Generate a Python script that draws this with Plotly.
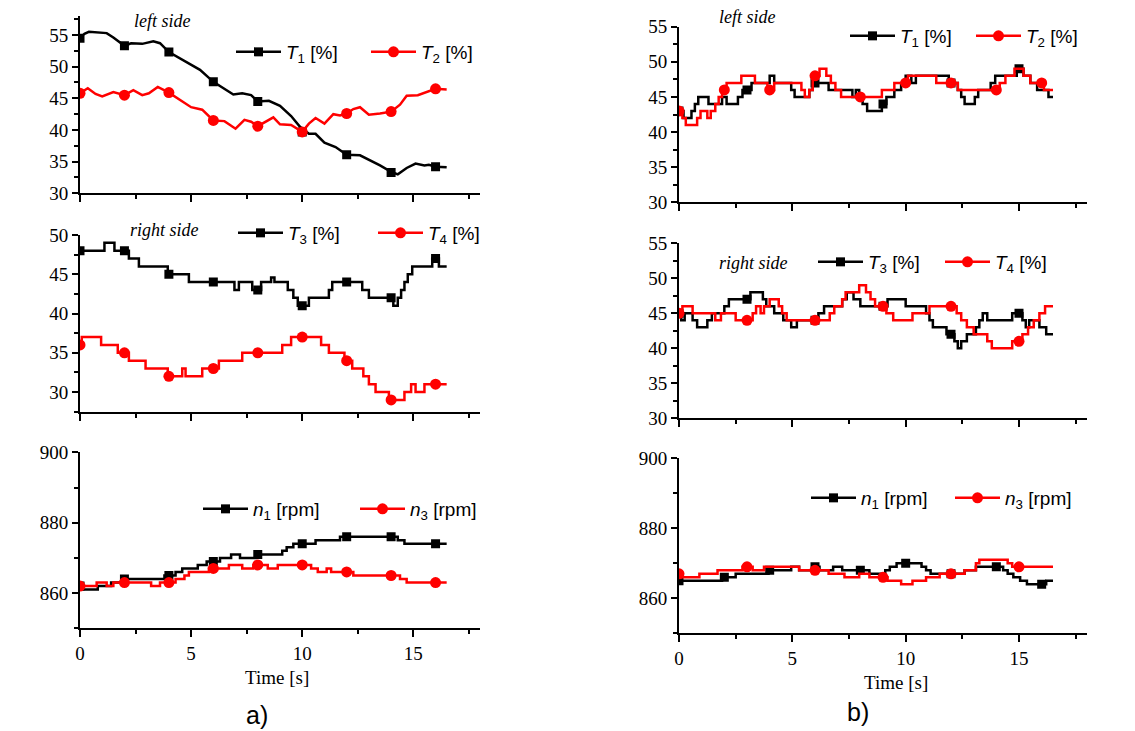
import plotly.graph_objects as go

W, H = 1135, 731
PAGE_MARGIN = 8            # browser body margin in front of the figure
FW, FH = W - PAGE_MARGIN, H - PAGE_MARGIN

# ---------------- data (time [s], value) ----------------
# a) left side
a_T1 = [(0, 54.5), (0.2, 55.2), (0.4, 55.5), (0.8, 55.4), (1.2, 55.3), (1.5, 54.6), (2.0, 53.3),
        (2.3, 53.7), (2.8, 53.6), (3.3, 54.0), (3.6, 53.7), (4.0, 52.3), (4.5, 51.3), (5.0, 50.2),
        (5.4, 49.5), (6.0, 47.6), (6.4, 46.7), (6.9, 45.6), (7.3, 45.8), (7.7, 45.5), (8.0, 44.5),
        (8.5, 44.6), (9.0, 43.8), (9.5, 42.2), (9.9, 40.5), (10.3, 39.4), (10.6, 39.4), (11.0, 38.0),
        (11.5, 37.3), (12.0, 36.1), (12.6, 36.0), (13.0, 35.3), (13.5, 34.4), (14.0, 33.4), (14.3, 33.0),
        (14.7, 34.0), (15.1, 34.7), (15.5, 34.4), (15.7, 34.5), (16.0, 34.2), (16.5, 34.1)]
a_T2 = [(0, 45.8), (0.35, 46.6), (0.7, 45.7), (1.0, 45.3), (1.5, 46.0), (2.0, 45.5), (2.4, 46.3),
        (2.8, 45.5), (3.1, 45.8), (3.5, 46.8), (4.0, 45.9), (4.5, 44.8), (5.0, 43.6), (5.5, 43.2),
        (6.0, 41.5), (6.5, 41.4), (7.0, 40.2), (7.4, 41.6), (7.7, 41.3), (8.0, 40.6), (8.4, 41.4),
        (8.7, 42.0), (9.0, 40.9), (9.5, 40.8), (10.0, 39.7), (10.3, 41.0), (10.6, 41.9), (11.0, 41.0),
        (11.4, 42.5), (11.7, 42.3), (12.0, 42.6), (12.3, 43.3), (12.6, 43.6), (13.0, 42.4), (13.5, 42.6),
        (14.0, 42.9), (14.4, 44.0), (14.7, 45.4), (15.2, 45.5), (15.6, 46.0), (16.0, 46.5), (16.5, 46.4)]
a_T1_mk = [54.5, 53.3, 52.3, 47.6, 44.5, 39.7, 36.1, 33.3, 34.2]
a_T2_mk = [45.8, 45.5, 45.9, 41.5, 40.6, 39.7, 42.6, 42.9, 46.5]

# a) right side (step changes)
a_T3 = [(0, 48), (1.1, 49), (1.55, 48), (2.2, 47), (2.65, 46), (3.95, 45), (4.9, 44), (6.95, 43),
        (7.15, 44), (7.75, 43), (8.15, 44), (8.6, 44.6), (8.75, 44), (9.35, 43), (9.6, 42), (9.8, 41),
        (10.3, 42), (11.2, 43), (11.35, 44), (12.7, 43), (13.0, 42), (14.1, 41), (14.3, 42), (14.45, 43),
        (14.6, 44), (14.75, 45), (14.95, 46), (15.85, 47), (16.15, 46), (16.5, 46)]
a_T4 = [(0, 36), (0.08, 37), (0.95, 36), (1.7, 35), (2.2, 34), (2.95, 33), (3.95, 32), (4.6, 33),
        (4.75, 32), (5.5, 33), (6.25, 34), (7.3, 35), (9.1, 36), (9.5, 37), (10.85, 36), (11.2, 35),
        (11.9, 34), (12.25, 33), (12.75, 32), (13.0, 31), (13.3, 30), (13.9, 29), (14.6, 30), (14.9, 31),
        (15.1, 30), (15.5, 31), (16.5, 31)]
a_T3_mk = [48, 48, 45, 44, 43, 41, 44, 42, 47]
a_T4_mk = [36, 35, 32, 33, 35, 37, 34, 29, 31]

# a) speeds
a_n1 = [(0, 862), (0.1, 861), (0.8, 862), (1.4, 863), (1.9, 864), (3.8, 865), (4.3, 866), (4.6, 867),
        (5.3, 868), (5.7, 869), (6.3, 870), (6.8, 871), (7.2, 870), (7.9, 871), (9.1, 872), (9.3, 873),
        (9.6, 874), (10.6, 875), (11.7, 876), (14.3, 875), (14.6, 874), (16.5, 874)]
a_n3 = [(0, 862), (0.75, 863), (1.2, 862), (1.5, 863), (3.2, 862), (3.6, 863), (4.3, 864), (4.7, 865),
        (4.9, 866), (5.8, 867), (6.7, 868), (7.3, 867), (7.8, 868), (8.45, 867), (8.9, 868), (10.4, 867),
        (10.7, 866), (11.1, 867), (11.3, 866), (12.3, 865), (14.4, 864), (14.7, 863), (16.5, 863)]
a_n1_mk = [862, 864, 865, 869, 871, 874, 876, 876, 874]
a_n3_mk = [862, 863, 863, 867, 868, 868, 866, 865, 863]

# b) left side
b_T1 = [(0, 43), (0.2, 42), (0.55, 43), (0.7, 44), (0.85, 45), (1.3, 44), (1.9, 45), (2.1, 44), (2.6, 45),
        (2.8, 46), (3.2, 47), (4.0, 48), (4.2, 47), (4.95, 46), (5.1, 45), (5.75, 46), (5.9, 47), (6.6, 46),
        (7.65, 45), (7.8, 46), (7.95, 45), (8.1, 44), (8.3, 43), (8.95, 44), (9.15, 45), (9.5, 46),
        (9.8, 47), (10.0, 48), (10.25, 47), (10.45, 48), (11.9, 47), (12.3, 46), (12.45, 45), (12.6, 44),
        (13.05, 45), (13.2, 46), (13.75, 47), (13.95, 48), (14.9, 49), (15.2, 48), (15.5, 47), (15.8, 46),
        (16.3, 45), (16.5, 45)]
b_T2 = [(0, 43), (0.15, 42), (0.3, 41), (0.8, 42), (0.95, 43), (1.25, 42), (1.4, 43), (1.6, 44), (1.75, 45),
        (1.9, 46), (2.1, 47), (2.75, 48), (3.35, 47), (3.9, 46), (4.2, 47), (5.4, 46), (5.55, 45), (5.75, 46),
        (5.9, 48), (6.2, 49), (6.5, 48), (6.7, 47), (6.9, 46), (7.15, 45), (8.95, 46), (9.5, 47), (10.1, 48),
        (11.35, 47), (12.3, 46), (14.15, 47), (14.4, 48), (14.8, 49), (15.2, 48), (15.5, 47), (16.1, 46),
        (16.5, 46)]
b_T1_mk = [43, 46, 47, 44, 47, 49]
b_T2_mk = [43, 46, 46, 48, 45, 47, 47, 46, 47]

# b) right side
b_T3 = [(0, 45), (0.1, 44), (0.25, 45), (0.6, 44), (0.8, 43), (1.25, 44), (1.45, 45), (2.0, 46), (2.2, 47),
        (3.15, 48), (3.7, 47), (3.85, 46), (4.2, 45), (4.6, 44), (4.95, 43), (5.2, 44), (6.15, 45), (6.4, 46),
        (7.2, 47), (7.4, 48), (7.7, 47), (8.0, 46), (9.2, 47), (10.0, 46), (10.9, 45), (11.05, 44), (11.2, 43),
        (11.8, 42), (12.15, 41), (12.3, 40), (12.45, 41), (12.7, 42), (13.1, 43), (13.25, 44), (13.4, 45),
        (13.6, 44), (14.7, 45), (15.15, 44), (15.3, 43), (15.45, 44), (15.9, 43), (16.2, 42), (16.5, 42)]
b_T4 = [(0, 45), (0.15, 46), (0.6, 45), (1.6, 44), (1.85, 45), (2.5, 44), (3.25, 45), (3.4, 46), (3.6, 45),
        (3.75, 46), (4.0, 47), (4.4, 46), (4.55, 45), (4.75, 44), (6.65, 45), (6.85, 46), (7.2, 47), (7.35, 48),
        (7.95, 49), (8.25, 48), (8.45, 47), (8.65, 46), (9.15, 45), (9.45, 44), (10.3, 45), (11.05, 46),
        (12.25, 45), (12.45, 44), (12.7, 43), (13.0, 42), (13.6, 41), (13.8, 40), (14.7, 41), (15.15, 42),
        (15.4, 43), (15.65, 44), (15.9, 45), (16.15, 46), (16.5, 46)]
b_T3_mk = [45, 47, 44, 46, 42, 45]
b_T4_mk = [45, 44, 44, 46, 46, 41]

# b) speeds
b_n1 = [(0, 865), (1.9, 866), (2.5, 867), (3.95, 868), (4.95, 869), (5.3, 868), (5.9, 869), (6.2, 868),
        (6.8, 869), (7.2, 868), (8.4, 867), (9.1, 868), (9.3, 869), (9.6, 870), (10.7, 869), (10.9, 868),
        (11.1, 867), (12.6, 868), (13.1, 869), (14.3, 868), (14.5, 867), (14.75, 866), (15.05, 865),
        (15.35, 864), (16.2, 865), (16.5, 865)]
b_n3 = [(0, 867), (0.1, 866), (0.9, 867), (1.7, 868), (2.8, 869), (3.25, 868), (3.75, 869), (5.3, 868),
        (6.6, 867), (7.3, 866), (7.95, 867), (8.4, 866), (9.2, 865), (9.8, 864), (10.3, 865), (10.9, 866),
        (11.5, 867), (12.6, 868), (13.1, 870), (13.25, 871), (14.5, 870), (14.7, 869), (16.5, 869)]
b_n1_mk = [865, 866, 868, 869, 868, 870, 867, 869, 864]
b_n3_mk = [867, 869, 868, 866, 867, 869]

mk_every2 = [0, 2, 4, 6, 8, 10, 12, 14, 16]
mk_every3 = [0, 3, 6, 9, 12, 15]

x_ticks = [0, 5, 10, 15]

# ---------------- layout helpers ----------------
BLACK = "#000000"
RED = "#ff0000"
SERIF = "Liberation Serif"
SANS = "Liberation Sans"


def px_x(p):
    return (p - PAGE_MARGIN) / FW


def px_y(p):
    return 1 - (p - PAGE_MARGIN) / FH


# panel geometry in pixels: (left, right, top, bottom), y-range, dtick, minor dtick, tick0, labels
panels = [
    ((80, 480, 16.0, 193.3), [30, 58], 5, 2.5, 30, False),
    ((80, 480, 235.0, 411.7), [27.5, 50], 5, 2.5, 30, False),
    ((80, 480, 452.3, 628.3), [850, 900], 20, 10, 860, True),
    ((679, 1087, 26.7, 202.3), [30, 55], 5, 2.5, 30, False),
    ((679, 1087, 243.3, 418.3), [30, 55], 5, 2.5, 30, False),
    ((679, 1087, 458.3, 633.3), [850, 900], 20, 10, 860, True),
]

fig = go.Figure()
layout = dict(
    template="none",
    width=FW, height=FH, margin=dict(l=0, r=0, t=0, b=0, autoexpand=False),
    paper_bgcolor="white", plot_bgcolor="white", showlegend=True,
)

for i, (geo, yr, dt, mdt, t0, lab) in enumerate(panels):
    l, r, t, b = geo
    k = "" if i == 0 else str(i + 1)
    layout["xaxis" + k] = dict(
        domain=[px_x(l), px_x(r)], range=[0, 18], anchor="y" + k, automargin=False,
        tickvals=x_ticks, ticks="outside", ticklen=7, tickwidth=2, tickcolor=BLACK,
        showline=True, linewidth=2, linecolor=BLACK, showgrid=False, zeroline=False,
        showticklabels=lab, tickfont=dict(family=SERIF, size=19, color=BLACK),
        minor=dict(dtick=2.5, tick0=0, ticks="outside", ticklen=4, tickwidth=2, tickcolor=BLACK,
                   showgrid=False),
        fixedrange=True,
    )
    layout["yaxis" + k] = dict(
        domain=[px_y(b), px_y(t)], range=yr, anchor="x" + k, automargin=False,
        tick0=t0, dtick=dt, ticks="outside", ticklen=6, tickwidth=2, tickcolor=BLACK,
        showline=True, linewidth=2, linecolor=BLACK, showgrid=False, zeroline=False,
        tickfont=dict(family=SERIF, size=19, color=BLACK),
        minor=dict(dtick=mdt, tick0=t0, ticks="outside", ticklen=4, tickwidth=2, tickcolor=BLACK,
                   showgrid=False),
        fixedrange=True,
    )

# series: panel, data, marker times, marker values, color, symbol, label, legend (line start px, y px), shape
series = [
    (0, a_T1, mk_every2, a_T1_mk, BLACK, "square", "<i>T</i><sub>1</sub> [%]", (240, 52), "linear"),
    (0, a_T2, mk_every2, a_T2_mk, RED, "circle", "<i>T</i><sub>2</sub> [%]", (375, 52), "linear"),
    (1, a_T3, mk_every2, a_T3_mk, BLACK, "square", "<i>T</i><sub>3</sub> [%]", (242, 233), "hv"),
    (1, a_T4, mk_every2, a_T4_mk, RED, "circle", "<i>T</i><sub>4</sub> [%]", (382, 233), "hv"),
    (2, a_n1, mk_every2, a_n1_mk, BLACK, "square", "<i>n</i><sub>1</sub> [rpm]", (207, 509), "hv"),
    (2, a_n3, mk_every2, a_n3_mk, RED, "circle", "<i>n</i><sub>3</sub> [rpm]", (364, 509), "hv"),
    (3, b_T1, mk_every3, b_T1_mk, BLACK, "square", "<i>T</i><sub>1</sub> [%]", (854, 36), "hv"),
    (3, b_T2, mk_every2, b_T2_mk, RED, "circle", "<i>T</i><sub>2</sub> [%]", (980, 36), "hv"),
    (4, b_T3, mk_every3, b_T3_mk, BLACK, "square", "<i>T</i><sub>3</sub> [%]", (822, 262), "hv"),
    (4, b_T4, mk_every3, b_T4_mk, RED, "circle", "<i>T</i><sub>4</sub> [%]", (949, 262), "hv"),
    (5, b_n1, mk_every2, b_n1_mk, BLACK, "square", "<i>n</i><sub>1</sub> [rpm]", (815, 498), "hv"),
    (5, b_n3, mk_every3, b_n3_mk, RED, "circle", "<i>n</i><sub>3</sub> [rpm]", (959, 498), "hv"),
]

for j, (pi, data, mkt, mkv, col, sym, name, (lx, ly), shape) in enumerate(series):
    k = "" if pi == 0 else str(pi + 1)
    xa, ya = "x" + k, "y" + k
    msize = 9 if sym == "square" else 11
    xs = [p[0] for p in data]
    ys = [p[1] for p in data]
    fig.add_trace(go.Scatter(x=xs, y=ys, mode="lines", line=dict(color=col, width=2.5, shape=shape),
                             xaxis=xa, yaxis=ya, showlegend=False, hoverinfo="skip"))
    fig.add_trace(go.Scatter(x=mkt, y=mkv, mode="markers",
                             marker=dict(symbol=sym, size=msize, color=col, line=dict(width=0)),
                             xaxis=xa, yaxis=ya, showlegend=False, hoverinfo="skip"))
    lg = "legend" if j == 0 else "legend" + str(j + 1)
    fig.add_trace(go.Scatter(x=[None], y=[None], mode="lines+markers", name=name,
                             line=dict(color=col, width=2.5),
                             marker=dict(symbol=sym, size=msize, color=col, line=dict(width=0)),
                             xaxis=xa, yaxis=ya, showlegend=True, legend=lg))
    layout[lg] = dict(x=px_x(lx - 9), y=px_y(ly), xanchor="left", yanchor="middle",
                      bgcolor="rgba(0,0,0,0)", borderwidth=0, itemwidth=45,
                      font=dict(family=SANS, size=19, color=BLACK), itemclick=False)

annotations = [
    dict(text="<i>left side</i>", x=px_x(132), y=px_y(21)),
    dict(text="<i>right side</i>", x=px_x(128), y=px_y(230)),
    dict(text="<i>left side</i>", x=px_x(717), y=px_y(17)),
    dict(text="<i>right side</i>", x=px_x(717), y=px_y(263)),
]
ann = []
for a in annotations:
    ann.append(dict(text=a["text"], x=a["x"], y=a["y"], xref="paper", yref="paper",
                    xanchor="left", yanchor="middle", showarrow=False,
                    font=dict(family=SERIF, size=18, color=BLACK)))
for (cx, cy) in [(277, 677), (896, 682)]:
    ann.append(dict(text="Time [s]", x=px_x(cx), y=px_y(cy), xref="paper", yref="paper",
                    xanchor="center", yanchor="middle", showarrow=False,
                    font=dict(family=SERIF, size=19, color=BLACK)))
for (txt, cx, cy) in [("a)", 257, 715), ("b)", 858, 712)]:
    ann.append(dict(text=txt, x=px_x(cx), y=px_y(cy), xref="paper", yref="paper",
                    xanchor="center", yanchor="middle", showarrow=False,
                    font=dict(family=SANS, size=25, color=BLACK)))
layout["annotations"] = ann

fig.update_layout(**layout)
fig.write_html("out.html", config={"displayModeBar": False})
